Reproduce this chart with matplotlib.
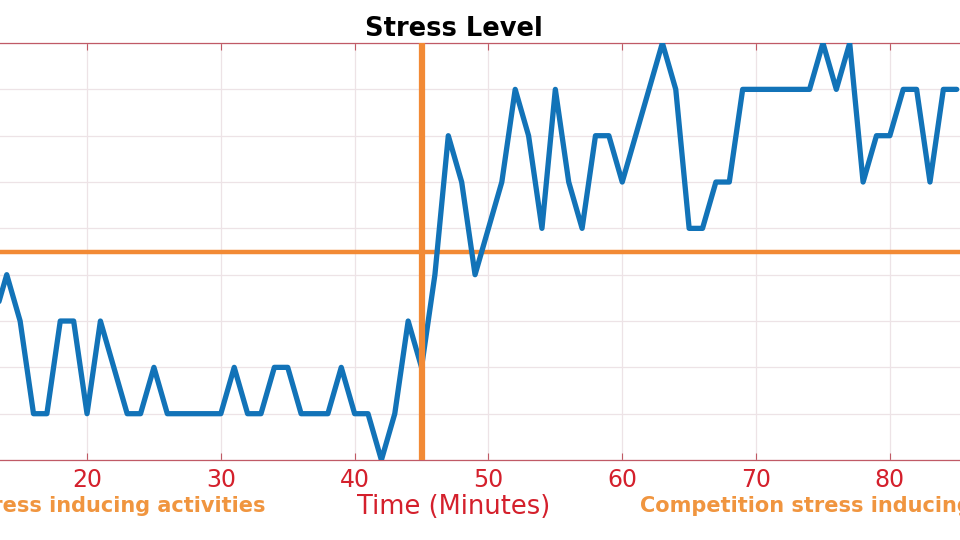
import numpy as np
import matplotlib
matplotlib.use("Agg")
import matplotlib.pyplot as plt

# --- DATA ---
minutes = list(range(13, 86))
stress = [4, 5, 4, 2, 2, 4, 4, 2, 4, 3, 2, 2, 3, 2, 2, 2, 2, 2, 3, 2,
          2, 3, 3, 2, 2, 2, 3, 2, 2, 1, 2, 4, 3, 5, 8, 7, 5, 6, 7, 9,
          8, 6, 9, 7, 6, 8, 8, 7, 8, 9, 10, 9, 6, 6, 7, 7, 9, 9, 9, 9,
          9, 9, 10, 9, 10, 7, 8, 8, 9, 9, 7, 9, 9]
x_ticks = [20, 30, 40, 50, 60, 70, 80]
switch_minute = 45
threshold = 5.5

left_note = "Non-competition stress inducing activities"
right_note = "Competition stress inducing activities"

# --- STYLE ---
BLUE = "#1273b8"
ORANGE = "#f28a35"
NOTE_ORANGE = "#f0953f"
RED = "#d4202c"
SPINE = "#c05a66"
GRID = "#ede3e6"

plt.rcParams['font.family'] = ['DejaVu Sans']

fig = plt.figure(figsize=(9.6, 5.4), dpi=100)
# the axes run past the figure edges (the reference is a crop)
ax = fig.add_axes([-0.1881, 0.1481, 1.2544, 0.7722])

ax.plot(minutes, stress, color=BLUE, lw=3.8, solid_joinstyle='round',
        solid_capstyle='round', zorder=3)
ax.axvline(switch_minute, color=ORANGE, lw=4.5, zorder=4)
ax.axhline(threshold, color=ORANGE, lw=3.2, zorder=2)

ax.set_xlim(0, 90)
ax.set_ylim(1, 10)
ax.set_xticks(x_ticks)
ax.set_yticks(np.arange(1, 11))
ax.set_yticklabels([])
ax.grid(True, color=GRID, lw=0.9)
ax.set_axisbelow(True)

ax.tick_params(axis='x', direction='in', length=5, color=SPINE,
               labelcolor=RED, labelsize=17, pad=6, top=True)
ax.tick_params(axis='y', length=0)
for s in ax.spines.values():
    s.set_color(SPINE)
    s.set_linewidth(0.9)

ax.set_xlabel("Time (Minutes)", color=RED, fontsize=18.5)
ax.xaxis.set_label_coords(0.527, -0.082)
ax.set_title("Stress Level", fontsize=18.5, fontweight='bold', x=0.527, pad=5)

fig.text(265 / 960, 1 - 506 / 540, left_note, ha='right', va='center',
         color=NOTE_ORANGE, fontsize=15, fontweight='bold')
fig.text(640 / 960, 1 - 506 / 540, right_note, ha='left', va='center',
         color=NOTE_ORANGE, fontsize=15, fontweight='bold')

fig.savefig("out.png", dpi=100)
